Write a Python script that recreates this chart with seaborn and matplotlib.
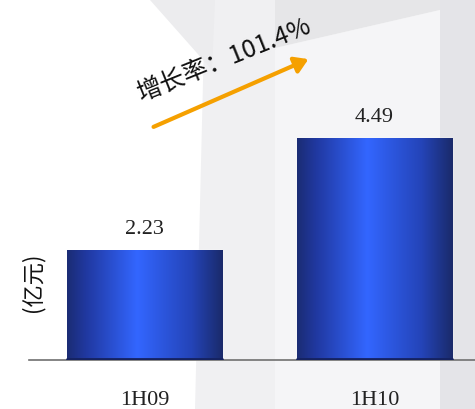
import numpy as np
import matplotlib
matplotlib.use("Agg")
import matplotlib.pyplot as plt
import seaborn as sns
from matplotlib.colors import LinearSegmentedColormap
from matplotlib.patches import Polygon, FancyArrowPatch

# data
periods = ["1H09", "1H10"]
profit = [2.23, 4.49]
growth_text = "增长率：101.4%"
unit_label = "(亿元)"

sns.set_style("white")
plt.rcParams['font.family'] = ['Noto Sans CJK SC', 'DejaVu Sans']

fig = plt.figure(figsize=(4.75, 4.09), dpi=100)

# faded building backdrop, in pixel coords
bg = fig.add_axes([0, 0, 1, 1], zorder=0)
bg.set_xlim(0, 475)
bg.set_ylim(409, 0)
bg.axis("off")
shapes = [
    ([(205, 0), (275, 0), (275, 409), (195, 409)], "#f0f0f2"),
    ([(150, 0), (215, 0), (212, 70)], "#ececee"),
    ([(275, 48), (440, 10), (440, 409), (275, 409)], "#f5f5f7"),
    ([(275, 0), (440, 0), (440, 10), (275, 48)], "#e6e6e8"),
    ([(440, 0), (475, 0), (475, 409), (440, 409)], "#e4e4e8"),
]
for pts, col in shapes:
    bg.add_patch(Polygon(pts, closed=True, facecolor=col, edgecolor="none"))

ax = fig.add_axes([29 / 475, 49 / 409, 446 / 475, 360 / 409], zorder=1)
ax.patch.set_alpha(0)

sns.barplot(x=periods, y=profit, color="#2a50d0", width=0.674, ax=ax)

# horizontal gradient fill on each bar
cmap = LinearSegmentedColormap.from_list(
    "bar", [(0, "#1b2c74"), (0.12, "#2038a0"), (0.45, "#3366ff"),
            (0.8, "#2444b8"), (1, "#1a2a6a")])
grad = np.linspace(0, 1, 256).reshape(1, -1)
for p in ax.patches:
    x0, w, h = p.get_x(), p.get_width(), p.get_height()
    im = ax.imshow(grad, extent=[x0, x0 + w, 0, h], aspect="auto",
                   cmap=cmap, zorder=2)
    im.set_clip_path(p)
    ax.plot([x0, x0 + w], [0.02, 0.02], color="#152260", lw=2, zorder=3)

ax.set_xlim(-0.502, 1.437)
ax.set_ylim(0, 7.29)

for c in ax.containers:
    ax.bar_label(c, labels=[f"{v:.2f}" for v in profit], padding=8,
                 fontsize=16, family="Liberation Serif", color="#222222")

for s in ["top", "right", "left"]:
    ax.spines[s].set_visible(False)
ax.spines["bottom"].set_color("#707070")
ax.spines["bottom"].set_linewidth(1.2)
ax.set_yticks([])
ax.tick_params(axis="x", length=0, pad=22)
for t in ax.get_xticklabels():
    t.set_fontfamily("Liberation Serif")
    t.set_fontsize(16)
    t.set_color("#222222")
ax.set_xlabel("")
ax.set_ylabel("")

fig.text(33 / 475, 1 - 282 / 409, unit_label, rotation=90, ha="center",
         va="center", fontsize=16, color="#111111")

# growth arrow and note
fig.patches.append(FancyArrowPatch(
    (151 / 475, 1 - 128 / 409), (311 / 475, 1 - 58 / 409),
    transform=fig.transFigure, arrowstyle="-|>,head_length=8,head_width=5",
    color="#f5a000", lw=3, zorder=5))
fig.text(225 / 475, 1 - 60 / 409, growth_text, rotation=22,
         rotation_mode="anchor", ha="center", va="center", fontsize=18,
         color="#111111")

plt.savefig("out.png", dpi=100)
